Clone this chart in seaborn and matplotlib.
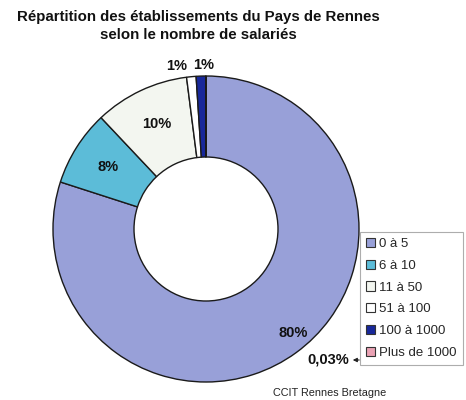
import numpy as np
import matplotlib
matplotlib.use("Agg")
import matplotlib.pyplot as plt
import seaborn as sns

categories = ["0 à 5", "6 à 10", "11 à 50", "51 à 100", "100 à 1000", "Plus de 1000"]
values = [79.97, 8, 10, 1, 1, 0.03]
shown = ["80%", "8%", "10%", "1%", "1%", ""]
colors = ["#98a0d8", "#5cbcd8", "#f3f6f0", "#ffffff", "#18289a", "#eaa2b4"]

sns.set_theme(style="white")
plt.rcParams['font.family'] = ['Liberation Sans', 'DejaVu Sans']

fig = plt.figure(figsize=(4.66, 4.0), dpi=100)
ax = fig.add_axes([0, 0, 1, 1])

cx, cy, R = 206, 171, 153
wedges, _ = ax.pie(values, colors=sns.color_palette(colors), startangle=90,
                   counterclock=False, center=(cx, cy), radius=R,
                   wedgeprops=dict(width=R - 72, edgecolor="#1a1a1a", linewidth=1.0),
                   frame=True)
ax.set_xlim(0, 466)
ax.set_ylim(0, 400)
ax.axis("off")

# label offsets (radius, x shift) per slice
label_r = [136, 116, 116, R + 11, R + 11, 0]
label_dx = [0, 0, 0, -14, 3, 0]
for w, lab, r, dx in zip(wedges, shown, label_r, label_dx):
    if not lab:
        continue
    mid = np.deg2rad((w.theta1 + w.theta2) / 2)
    if lab == "80%":
        mid -= np.deg2rad(-4)
    x = cx + r * np.cos(mid) + dx
    y = cy + r * np.sin(mid)
    ax.text(x, y, lab, ha="center", va="center", fontsize=10.5,
            fontweight="bold", color="#111111")

ax.annotate("", xy=(350, 40), xytext=(362, 40),
            arrowprops=dict(arrowstyle="-|>", color="#222222", lw=0.8,
                            mutation_scale=6))
ax.text(349, 40, "0,03%", ha="right", va="center", fontsize=10.5,
        fontweight="bold", color="#111111")

fig.text(0.425, 0.975, "Répartition des établissements du Pays de Rennes\nselon le nombre de salariés",
         ha="center", va="top", fontsize=10.8, fontweight="bold",
         color="#111111", linespacing=1.35)
fig.text(0.708, 0.018, "CCIT Rennes Bretagne", ha="center", va="center",
         fontsize=7.8, color="#222222")

leg = ax.legend(wedges, categories, loc="upper left",
                bbox_to_anchor=(360 / 466, 1 - 232 / 400),
                bbox_transform=fig.transFigure, frameon=True, fontsize=9.5,
                handlelength=0.7, handleheight=0.7, handletextpad=0.3,
                labelspacing=0.72, borderpad=0.45, fancybox=False,
                borderaxespad=0)
leg.get_frame().set_edgecolor("#999999")
leg.get_frame().set_linewidth(0.8)
for h in leg.legend_handles:
    h.set_edgecolor("#333333")
    h.set_linewidth(0.8)

fig.savefig("out.png", dpi=100, facecolor="white")
